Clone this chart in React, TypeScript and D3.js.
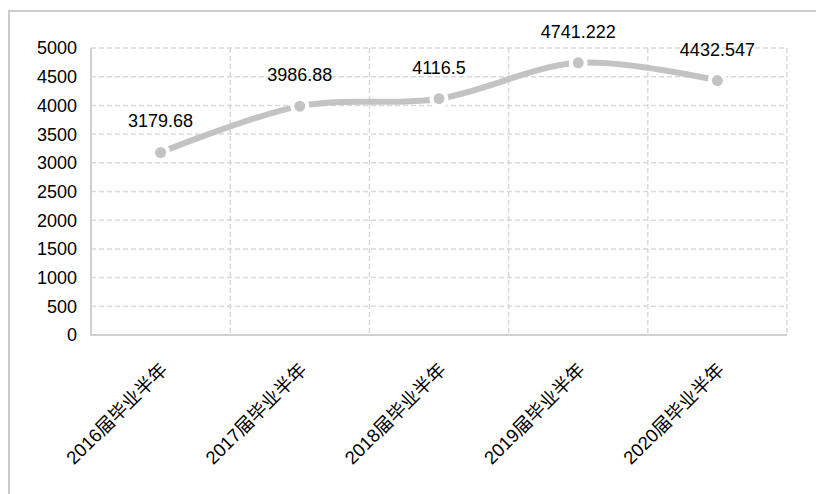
import React, { useEffect, useRef } from 'react'
import * as d3 from 'd3'

// chart values
const categories = ['2016届毕业半年', '2017届毕业半年', '2018届毕业半年', '2019届毕业半年', '2020届毕业半年']
const values = [3179.68, 3986.88, 4116.5, 4741.222, 4432.547]
const valueLabels = ['3179.68', '3986.88', '4116.5', '4741.222', '4432.547']
const yTicks = [0, 500, 1000, 1500, 2000, 2500, 3000, 3500, 4000, 4500, 5000]

function App () {
  const ref = useRef<SVGSVGElement>(null)

  useEffect(() => {
    const svg = d3.select(ref.current)
    svg.selectAll('*').remove()

    const left = 91
    const right = 787
    const top = 48
    const bottom = 335
    const font = '"Liberation Sans", Arial, "Noto Sans CJK SC", sans-serif'

    // outer frame (cropped on the right and bottom)
    svg.append('path')
      .attr('d', 'M9,494 L9,11 L816,11')
      .attr('fill', 'none')
      .attr('stroke', '#cccccc')
      .attr('stroke-width', 2)

    const x = d3.scaleBand().domain(categories).range([left, right])
    const y = d3.scaleLinear().domain([0, 5000]).range([bottom, top])

    const grid = svg.append('g')
      .attr('stroke', '#d9d9d9')
      .attr('stroke-width', 1.5)
      .attr('stroke-dasharray', '5,3')

    // horizontal grid lines
    grid.selectAll('line.h')
      .data(yTicks.filter(d => d > 0))
      .enter()
      .append('line')
      .attr('class', 'h')
      .attr('x1', left)
      .attr('x2', right)
      .attr('y1', d => y(d))
      .attr('y2', d => y(d))

    // vertical grid lines at category boundaries
    grid.selectAll('line.v')
      .data(categories.slice(1).map(c => x(c) as number).concat([right]))
      .enter()
      .append('line')
      .attr('class', 'v')
      .attr('x1', d => d)
      .attr('x2', d => d)
      .attr('y1', top)
      .attr('y2', bottom)

    // axis lines
    svg.append('path')
      .attr('d', `M${left},${top} L${left},${bottom} L${right},${bottom}`)
      .attr('fill', 'none')
      .attr('stroke', '#d0d0d0')
      .attr('stroke-width', 2)

    // y tick labels
    svg.append('g')
      .selectAll('text')
      .data(yTicks)
      .enter()
      .append('text')
      .attr('x', left - 14)
      .attr('y', d => y(d))
      .attr('dy', '0.36em')
      .attr('text-anchor', 'end')
      .attr('font-family', font)
      .attr('font-size', 18)
      .attr('fill', '#000')
      .text(d => d)

    // x tick labels, rotated
    svg.append('g')
      .selectAll('text')
      .data(categories)
      .enter()
      .append('text')
      .attr('transform', d => `translate(${(x(d) as number) + x.bandwidth() / 2 + 8},${371}) rotate(-45)`)
      .attr('text-anchor', 'end')
      .attr('font-family', font)
      .attr('font-size', 18.5)
      .attr('fill', '#000')
      .text(d => d)

    const cx = (i: number) => (x(categories[i]) as number) + x.bandwidth() / 2

    // smoothed line
    const line = d3.line<number>()
      .x((d, i) => cx(i))
      .y(d => y(d))
      .curve(d3.curveCatmullRom.alpha(0))

    svg.append('path')
      .datum(values)
      .attr('d', line)
      .attr('fill', 'none')
      .attr('stroke', '#c3c3c3')
      .attr('stroke-width', 6)

    // marker halos, then markers
    svg.append('g')
      .selectAll('circle')
      .data(values)
      .enter()
      .append('circle')
      .attr('cx', (d, i) => cx(i))
      .attr('cy', d => y(d))
      .attr('r', 9.5)
      .attr('fill', '#ffffff')

    svg.append('g')
      .selectAll('circle')
      .data(values)
      .enter()
      .append('circle')
      .attr('cx', (d, i) => cx(i))
      .attr('cy', d => y(d))
      .attr('r', 5.5)
      .attr('fill', '#c3c3c3')

    // data labels
    svg.append('g')
      .selectAll('text')
      .data(values)
      .enter()
      .append('text')
      .attr('x', (d, i) => cx(i))
      .attr('y', d => y(d) - 25)
      .attr('text-anchor', 'middle')
      .attr('font-family', font)
      .attr('font-size', 18)
      .attr('fill', '#000')
      .text((d, i) => valueLabels[i])
  }, [])

  return (
    <svg
      ref={ref}
      width={816}
      height={494}
      style={{ position: 'fixed', left: 0, top: 0, background: '#fff' }}
    />
  )
}

export default App
